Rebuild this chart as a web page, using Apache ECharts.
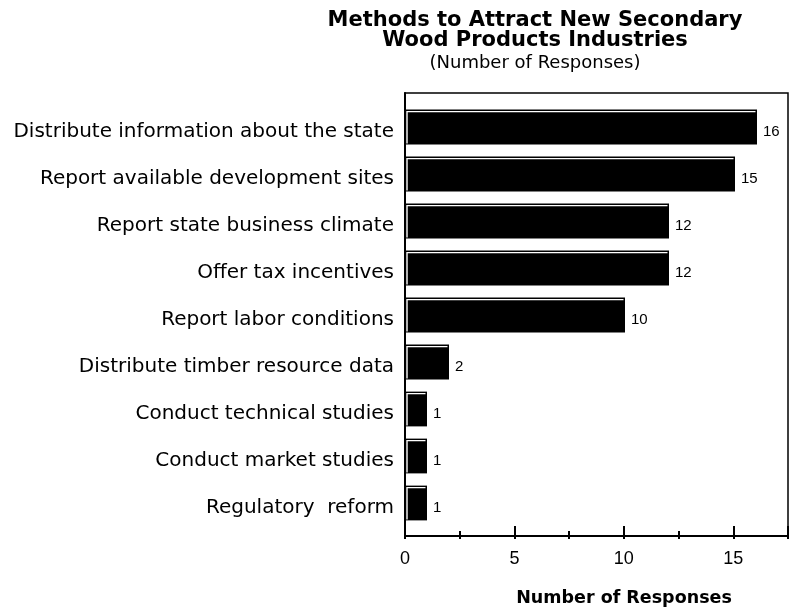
<!DOCTYPE html>
<html>
<head>
<meta charset="utf-8">
<script src="https://cdn.jsdelivr.net/npm/echarts@6/dist/echarts.min.js"></script>
<style>
  html, body { margin: 0; padding: 0; background: #fff; }
  #chart { width: 791px; height: 609px; }
</style>
</head>
<body>
<div id="chart"></div>
<script>
const categories = [
  "Distribute information about the state",
  "Report available development sites",
  "Report state business climate",
  "Offer tax incentives",
  "Report labor conditions",
  "Distribute timber resource data",
  "Conduct technical studies",
  "Conduct market studies",
  "Regulatory  reform"
];
const responses = [16, 15, 12, 12, 10, 2, 1, 1, 1];
const xTicks = [0, 5, 10, 15];

const chartDom = document.getElementById("chart");
const myChart = echarts.init(chartDom, null, { renderer: "canvas" });

// white bevel line along the top and left edge of each bar
function renderHighlight(params, api) {
  const start = api.coord([0, api.value(1)]);
  const end = api.coord([api.value(0), api.value(1)]);
  const h = api.size([0, 1])[1] * 0.74;
  const top = start[1] - h / 2;
  const bottom = start[1] + h / 2;
  return {
    type: "polyline",
    shape: {
      points: [
        [start[0] + 2, bottom - 1],
        [start[0] + 2, top + 2],
        [end[0] - 1.5, top + 2]
      ]
    },
    style: { stroke: "#fff", lineWidth: 1.4, fill: null }
  };
}

const option = {
  animation: false,
  backgroundColor: "#fff",
  textStyle: { fontFamily: "Liberation Sans", color: "#000" },
  graphic: [
    {
      type: "text", x: 535, y: 21,
      style: { text: "Methods to Attract New Secondary", font: 'bold 21px "DejaVu Sans"', fill: "#000", align: "center", verticalAlign: "middle" }
    },
    {
      type: "text", x: 535, y: 41,
      style: { text: "Wood Products Industries", font: 'bold 21px "DejaVu Sans"', fill: "#000", align: "center", verticalAlign: "middle" }
    },
    {
      type: "text", x: 535, y: 63,
      style: { text: "(Number of Responses)", font: '18px "DejaVu Sans"', fill: "#000", align: "center", verticalAlign: "middle" }
    },
    {
      type: "text", x: 624, y: 598,
      style: { text: "Number of Responses", font: 'bold 17.5px "DejaVu Sans"', fill: "#000", align: "center", verticalAlign: "middle" }
    }
  ],
  grid: [
    { left: 405, right: 1, top: 93, bottom: 73, show: true, borderColor: "#000", borderWidth: 1.5, backgroundColor: "transparent" },
    { left: 405, right: 1, top: 103.5, bottom: 82.5 },
    // category labels sit a little below the bar centres
    { left: 405, right: 1, top: 108.5, bottom: 77.5 }
  ],
  xAxis: [
    {
      gridIndex: 0, type: "value", min: 0, max: 17.5, interval: 5,
      axisLine: { show: true, lineStyle: { color: "#000", width: 2 } },
      axisTick: { show: true, inside: true, length: 10, lineStyle: { color: "#000", width: 2 } },
      axisLabel: {
        show: true, margin: 14, fontSize: 18, fontFamily: "Liberation Sans", color: "#000",
        formatter: v => (xTicks.indexOf(v) >= 0 ? String(v) : "")
      },
      splitLine: { show: false }
    },
    {
      gridIndex: 0, type: "value", min: 0, max: 17.5, interval: 2.5, position: "bottom",
      axisLine: { show: false },
      axisTick: { show: true, inside: true, length: 5, lineStyle: { color: "#000", width: 2 } },
      axisLabel: { show: false },
      splitLine: { show: false }
    },
    {
      gridIndex: 0, type: "value", min: 0, max: 17.5, interval: 2.5, position: "bottom",
      axisLine: { show: false },
      axisTick: { show: true, inside: false, length: 3, lineStyle: { color: "#000", width: 2 } },
      axisLabel: { show: false },
      splitLine: { show: false }
    },
    { gridIndex: 1, type: "value", min: 0, max: 17.5, show: false },
    { gridIndex: 2, type: "value", min: 0, max: 17.5, show: false }
  ],
  yAxis: [
    {
      gridIndex: 0, type: "value", min: 0, max: 1,
      axisLine: { show: true, lineStyle: { color: "#000", width: 2 } },
      axisTick: { show: false },
      axisLabel: { show: false },
      splitLine: { show: false }
    },
    {
      gridIndex: 1, type: "category", data: categories, inverse: true,
      axisLine: { show: false },
      axisTick: { show: true, inside: true, alignWithLabel: true, length: 3, lineStyle: { color: "#000", width: 1.5 } },
      axisLabel: { show: false }
    },
    {
      gridIndex: 2, type: "category", data: categories, inverse: true,
      axisLine: { show: false },
      axisTick: { show: false },
      axisLabel: { margin: 11, fontSize: 20, fontFamily: "DejaVu Sans", color: "#000" }
    }
  ],
  series: [
    {
      type: "bar",
      xAxisIndex: 3,
      yAxisIndex: 1,
      data: responses,
      barWidth: "74%",
      itemStyle: { color: "#000" },
      label: {
        show: true, position: "right", distance: 6, offset: [0, 5],
        fontSize: 15, fontFamily: "Liberation Sans", color: "#000"
      }
    },
    {
      type: "custom",
      xAxisIndex: 3,
      yAxisIndex: 1,
      renderItem: renderHighlight,
      data: responses.map((v, i) => [v, i]),
      encode: { x: 0, y: 1 },
      z: 5,
      silent: true
    }
  ]
};

option && myChart.setOption(option);
</script>
</body>
</html>
